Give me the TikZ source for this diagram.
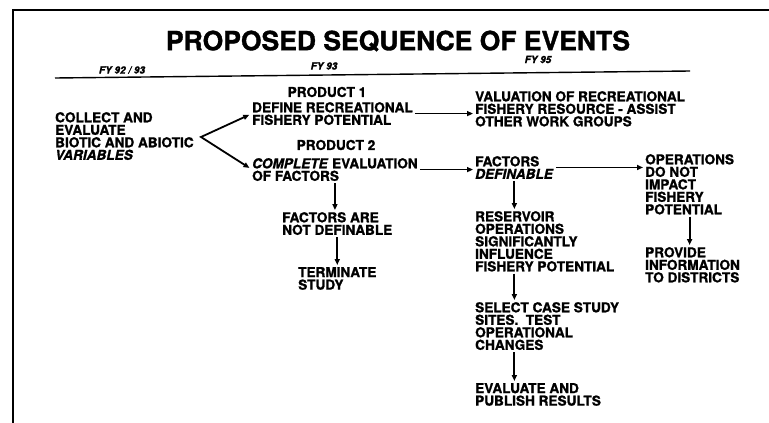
\documentclass[tikz,border=0pt]{standalone}
\usepackage{fontspec}
\setmainfont{TeX Gyre Heros}[BoldFeatures={FakeBold=1.3},BoldItalicFeatures={FakeBold=1.3}]
\usetikzlibrary{arrows.meta}
\begin{document}
\begin{tikzpicture}[x=1pt,y=-1pt,
		box/.style={anchor=north west,align=left,inner sep=0pt,font=\bfseries\fontsize{13.6}{12.5}\selectfont},
		head/.style={inner sep=0pt,font=\bfseries\fontsize{13.6}{12.5}\selectfont},
		fy/.style={inner sep=0pt,font=\bfseries\itshape\fontsize{10}{12}\selectfont},
		arr/.style={line width=1.8pt,shorten <=2pt,shorten >=2pt,-{Triangle[length=6pt,width=5pt]}},
		fork/.style={line width=1.8pt,shorten <=3pt,shorten >=3pt,{Triangle[length=6pt,width=5pt]}-{Triangle[length=6pt,width=5pt]}}]
		\useasboundingbox (0,0) rectangle (769,423);
		\fill[color=white] (0,0) rectangle (769,423);
		\draw[line width=2.4pt] (13,423) -- (13,10) -- (769,10);
		\node[font=\bfseries\fontsize{26.5}{28}\selectfont] (title) at (398,41) {PROPOSED SEQUENCE OF EVENTS};
		\node[fy] (fyA) at (122,70) {FY 92 / 93};
		\node[fy] (fyB) at (324,66) {FY 93};
		\node[fy] (fyC) at (538,59.5) {FY 95};
		\draw[line width=1.4pt] (55,78) -- (690,71);
		\node[box] (collect) at (55,112) {COLLECT AND\\EVALUATE\\BIOTIC AND ABIOTIC\\\textit{VARIABLES}};
		\node[head] (prodA) at (327,92) {PRODUCT 1};
		\node[box] (define) at (252,102) {DEFINE RECREATIONAL\\FISHERY POTENTIAL};
		\node[box] (valuation) at (475,91) {VALUATION OF RECREATIONAL\\FISHERY RESOURCE - ASSIST\\OTHER WORK GROUPS};
		\node[head] (prodB) at (336,145) {PRODUCT 2};
		\node[box] (complete) at (252,158) {\textit{COMPLETE} EVALUATION\\OF FACTORS};
		\node[box] (notdef) at (282,212) {FACTORS ARE\\NOT DEFINABLE};
		\node[box] (terminate) at (298,267) {TERMINATE\\STUDY};
		\node[box] (definable) at (475,156) {FACTORS\\\textit{DEFINABLE}};
		\node[box] (noimpact) at (645,154) {OPERATIONS\\DO NOT\\IMPACT\\FISHERY\\POTENTIAL};
		\node[box] (provide) at (645,247) {PROVIDE\\INFORMATION\\TO DISTRICTS};
		\node[box] (reservoir) at (475,211) {RESERVOIR\\OPERATIONS\\SIGNIFICANTLY\\INFLUENCE\\FISHERY POTENTIAL};
		\node[box] (select) at (475,302) {SELECT CASE STUDY\\SITES.\ \ TEST\\OPERATIONAL\\CHANGES};
		\node[box] (publish) at (475,383) {EVALUATE AND\\PUBLISH RESULTS};
		\coordinate (split) at (201,137);
		\draw[fork] (define.west) -- (split) -- (complete.west);
		\draw[arr] (define.east) -- (define.east -| valuation.west);
		\draw[arr] (complete.east) -- (complete.east -| definable.west);
		\draw[arr] (definable.east) -- (definable.east -| noimpact.west);
		\draw[arr] (complete.south) -- (complete.south |- notdef.north);
		\draw[arr] (notdef.south) -- (notdef.south |- terminate.north);
		\draw[arr] (definable.south) -- (definable.south |- reservoir.north);
		\draw[arr] (definable.south |- reservoir.south) -- (definable.south |- select.north);
		\draw[arr] (definable.south |- select.south) -- (definable.south |- publish.north);
		\draw[arr] (noimpact.south) -- (noimpact.south |- provide.north);
	\end{tikzpicture}
\end{document}
